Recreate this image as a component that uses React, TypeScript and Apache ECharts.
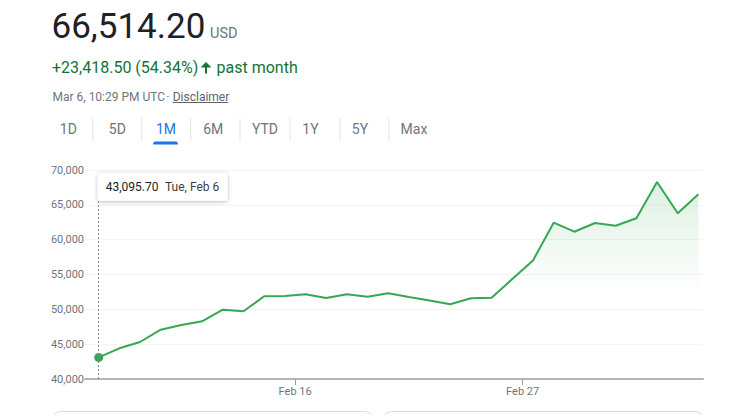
import React, { useEffect, useRef } from "react";
import * as echarts from "echarts";

// ---- data ----
const DATES = [
  "2024-02-06", "2024-02-07", "2024-02-08", "2024-02-09", "2024-02-10",
  "2024-02-11", "2024-02-12", "2024-02-13", "2024-02-14", "2024-02-15",
  "2024-02-16", "2024-02-17", "2024-02-18", "2024-02-19", "2024-02-20",
  "2024-02-21", "2024-02-22", "2024-02-23", "2024-02-24", "2024-02-25",
  "2024-02-26", "2024-02-27", "2024-02-28", "2024-02-29", "2024-03-01",
  "2024-03-02", "2024-03-03", "2024-03-04", "2024-03-05", "2024-03-06",
];
const PRICES = [
  43095.7, 44407, 45311, 47077, 47751,
  48282, 49947, 49718, 51871, 51914,
  52158, 51627, 52158, 51813, 52301,
  51770, 51268, 50722, 51584, 51670,
  54354, 57010, 62435, 61143, 62392,
  61990, 63067, 68277, 63785, 66514.2,
];
const X_TICK_DATES = ["2024-02-16", "2024-02-27"];
const X_TICK_LABELS = ["Feb 16", "Feb 27"];
const Y_MIN = 40000;
const Y_MAX = 70000;
const Y_STEP = 5000;

const PRICE_TEXT = "66,514.20";
const CURRENCY = "USD";
const CHANGE_TEXT = "+23,418.50 (54.34%)";
const CHANGE_SUFFIX = "past month";
const STAMP_TEXT = "Mar 6, 10:29 PM UTC";
const DISCLAIMER = "Disclaimer";
const TABS = ["1D", "5D", "1M", "6M", "YTD", "1Y", "5Y", "Max"];
const ACTIVE_TAB = "1M";
const TOOLTIP_DATE = "Tue, Feb 6";

// ---- helpers ----
const dayStart = (s: string) => {
  const [y, m, d] = s.split("-").map(Number);
  return Date.UTC(y, m - 1, d);
};
const HOUR = 3600 * 1000;
const DAY = 24 * HOUR;
const pointTime = (s: string) => dayStart(s) + 12 * HOUR;

const FONT = "Roboto, Arial, sans-serif";

export default function App() {
  const ref = useRef<HTMLDivElement>(null);

  useEffect(() => {
    if (!ref.current) return;
    const chart = echarts.init(ref.current, undefined, { renderer: "svg" });

    const seriesData = DATES.map((d, i) => [pointTime(d), PRICES[i]]);
    const t0 = pointTime(DATES[0]);
    const tN = pointTime(DATES[DATES.length - 1]);
    const tickValues = X_TICK_DATES.map(dayStart);

    const tabX = [68.3, 117.3, 166, 213.3, 265, 310.5, 360, 414];
    const sepX = [92.7, 141.7, 190.7, 240, 290, 340, 389];

    const txt = (
      text: string,
      x: number,
      y: number,
      size: number,
      fill: string,
      align: string = "left",
      extra: any = {}
    ) => ({
      type: "text",
      x,
      y,
      silent: true,
      z: 10,
      style: {
        text,
        fill,
        font: `${extra.weight || "normal"} ${size}px ${FONT}`,
        align,
        verticalAlign: "middle",
      },
    });

    const tooltipText = PRICES[0].toLocaleString("en-US", {
      minimumFractionDigits: 2,
      maximumFractionDigits: 2,
    });

    const graphics: any[] = [
      txt(PRICE_TEXT, 51.5, 26, 35, "#202124"),
      txt(CURRENCY, 210, 33, 14.5, "#70757a"),
      txt(CHANGE_TEXT, 52, 67.5, 16, "#137333"),
      {
        type: "polygon",
        silent: true,
        z: 10,
        shape: {
          points: [
            [206, 62],
            [211.5, 67.5],
            [207, 67.5],
            [207, 73.5],
            [205, 73.5],
            [205, 67.5],
            [200.5, 67.5],
          ],
        },
        style: { fill: "#137333" },
      },
      txt(CHANGE_SUFFIX, 216.5, 67.5, 16, "#137333"),
      txt(STAMP_TEXT, 52.5, 96.7, 12, "#70757a"),
      txt("·", 167.7, 96.7, 12, "#70757a", "center"),
      txt(DISCLAIMER, 172.7, 96.7, 12, "#5f6368"),
      {
        type: "line",
        silent: true,
        z: 10,
        shape: { x1: 172.7, y1: 102.5, x2: 228.3, y2: 102.5 },
        style: { stroke: "#5f6368", lineWidth: 1 },
      },
      ...TABS.map((t, i) =>
        txt(t, tabX[i], 128.7, 14, t === ACTIVE_TAB ? "#1a73e8" : "#70757a", "center")
      ),
      ...sepX.map((x) => ({
        type: "line",
        silent: true,
        z: 10,
        shape: { x1: x, y1: 118, x2: x, y2: 141 },
        style: { stroke: "#e3e5e8", lineWidth: 1 },
      })),
      {
        type: "rect",
        silent: true,
        z: 10,
        shape: { x: 153.3, y: 141.5, width: 24.5, height: 3, r: [2, 2, 0, 0] },
        style: { fill: "#1a73e8" },
      },
      // tooltip
      {
        type: "rect",
        silent: true,
        z: 20,
        shape: { x: 97.7, y: 173.3, width: 130, height: 27.4, r: 2 },
        style: {
          fill: "#ffffff",
          shadowBlur: 4,
          shadowColor: "rgba(0,0,0,0.28)",
          shadowOffsetY: 1,
        },
      },
      { ...txt(tooltipText, 105.7, 187, 12, "#202124"), z: 21 },
      { ...txt(TOOLTIP_DATE, 165, 187, 12, "#3c4043"), z: 21 },
      // bottom cards
      {
        type: "rect",
        silent: true,
        z: 10,
        shape: { x: 52.5, y: 411.5, width: 320, height: 40, r: 8 },
        style: { fill: "#fff", stroke: "#dadce0", lineWidth: 1 },
      },
      {
        type: "rect",
        silent: true,
        z: 10,
        shape: { x: 383.5, y: 411.5, width: 320, height: 40, r: 8 },
        style: { fill: "#fff", stroke: "#dadce0", lineWidth: 1 },
      },
    ];

    chart.setOption({
      animation: false,
      backgroundColor: "#ffffff",
      textStyle: { fontFamily: FONT },
      grid: { left: 85, right: 40, top: 170, bottom: 36, containLabel: false },
      xAxis: {
        type: "value",
        min: t0 - 0.662 * DAY,
        max: tN + 0.222 * DAY,
        splitLine: { show: false },
        axisLine: { show: true, lineStyle: { color: "#b4b4b4", width: 2 } },
        axisTick: {
          show: true,
          customValues: tickValues,
          length: 6,
          lineStyle: { color: "#9e9e9e", width: 1 },
        },
        axisLabel: {
          show: true,
          customValues: tickValues,
          margin: 7,
          fontSize: 11,
          color: "#70757a",
          fontFamily: FONT,
          formatter: (v: number) => {
            const i = tickValues.indexOf(v);
            return i >= 0 ? X_TICK_LABELS[i] : "";
          },
        },
      },
      yAxis: {
        type: "value",
        min: Y_MIN,
        max: Y_MAX,
        interval: Y_STEP,
        axisLine: { show: false },
        axisTick: { show: false },
        splitLine: { show: true, lineStyle: { color: "#f3f4f5", width: 1 } },
        axisLabel: {
          margin: 1,
          fontSize: 11,
          color: "#70757a",
          fontFamily: FONT,
          formatter: (v: number) => v.toLocaleString("en-US"),
        },
      },
      series: [
        {
          type: "line",
          data: seriesData,
          showSymbol: false,
          symbol: "none",
          lineStyle: { color: "#34a853", width: 2 },
          itemStyle: { color: "#34a853" },
          areaStyle: {
            color: new echarts.graphic.LinearGradient(0, 0, 0, 1, [
              { offset: 0, color: "rgba(52,168,83,0.24)" },
              { offset: 0.57, color: "rgba(52,168,83,0)" },
              { offset: 1, color: "rgba(52,168,83,0)" },
            ]),
          },
          z: 3,
          markLine: {
            silent: true,
            symbol: "none",
            label: { show: false },
            lineStyle: { color: "#80868b", type: [2, 2], width: 1 },
            data: [
              [
                { coord: [t0, Y_MIN] },
                { coord: [t0, 65500] },
              ],
            ],
          },
        },
        {
          type: "scatter",
          data: [seriesData[0]],
          symbol: "circle",
          symbolSize: 9,
          itemStyle: { color: "#34a853", opacity: 1 },
          z: 4,
        },
      ],
      graphic: graphics,
    });

    return () => chart.dispose();
  }, []);

  return (
    <div
      ref={ref}
      style={{
        position: "fixed",
        left: 0,
        top: 0,
        width: 743,
        height: 415,
        background: "#fff",
      }}
    />
  );
}
